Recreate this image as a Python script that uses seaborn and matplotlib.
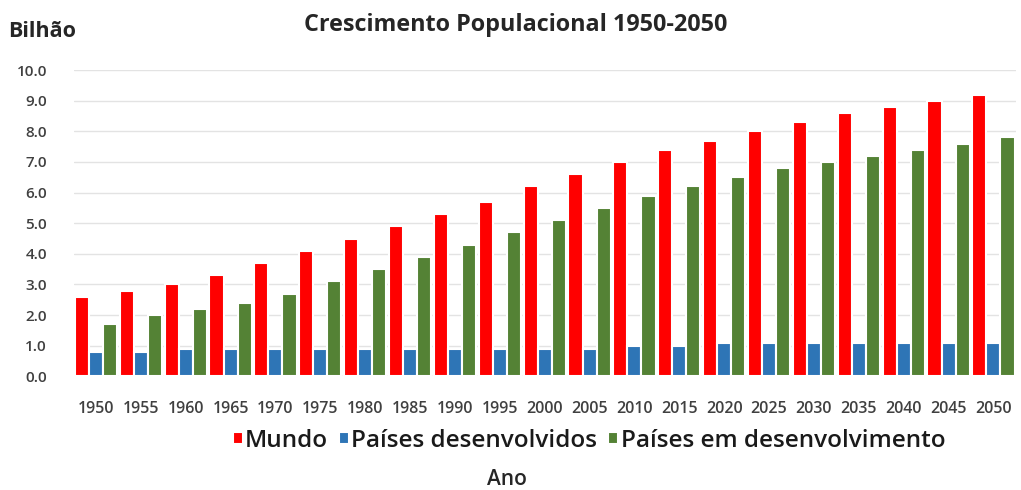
import matplotlib
matplotlib.use("Agg")
import matplotlib.pyplot as plt
import seaborn as sns
import pandas as pd

anos = [str(a) for a in range(1950, 2051, 5)]
mundo = [2.6, 2.8, 3.0, 3.3, 3.7, 4.1, 4.5, 4.9, 5.3, 5.7, 6.2, 6.6, 7.0, 7.4, 7.7, 8.0, 8.3, 8.6, 8.8, 9.0, 9.2]
desenvolvidos = [0.8, 0.8, 0.9, 0.9, 0.9, 0.9, 0.9, 0.9, 0.9, 0.9, 0.9, 0.9, 1.0, 1.0, 1.1, 1.1, 1.1, 1.1, 1.1, 1.1, 1.1]
em_desenvolvimento = [1.7, 2.0, 2.2, 2.4, 2.7, 3.1, 3.5, 3.9, 4.3, 4.7, 5.1, 5.5, 5.9, 6.2, 6.5, 6.8, 7.0, 7.2, 7.4, 7.6, 7.8]
series = ["Mundo", "Países desenvolvidos", "Países em desenvolvimento"]
cores = ["#FF0000", "#2E75B6", "#548235"]

df = pd.DataFrame({
    "Ano": anos * 3,
    "Valor": mundo + desenvolvidos + em_desenvolvimento,
    "Serie": [series[0]] * len(anos) + [series[1]] * len(anos) + [series[2]] * len(anos),
})

sns.set_style("white")
plt.rcParams["font.family"] = ["Open Sans", "DejaVu Sans"]

fig = plt.figure(figsize=(10.21, 4.90), dpi=100)
ax = fig.add_axes([0.072, 0.232, 0.923, 0.625])

sns.barplot(data=df, x="Ano", y="Valor", hue="Serie", palette=cores, ax=ax,
            width=0.94, linewidth=1.5, edgecolor="white", saturation=1, legend=True)

ax.set_ylim(0, 10)
ax.set_yticks([i for i in range(11)])
ax.set_yticklabels([f"{i:.1f}" for i in range(11)])
ax.set_xlim(-0.5, len(anos) - 0.5)
ax.yaxis.grid(True, color="#E3E3E3", linewidth=1.0)
ax.set_axisbelow(True)
for s in ax.spines.values():
    s.set_visible(False)
ax.tick_params(axis="both", length=0, labelsize=11, colors="#404040")
ax.tick_params(axis="x", pad=18, labelsize=11.5)
ax.tick_params(axis="y", pad=19)
for t in ax.get_xticklabels() + ax.get_yticklabels():
    t.set_fontweight("semibold")
ax.set_xlabel("")
ax.set_ylabel("")

fig.text(0.505, 0.948, "Crescimento Populacional 1950-2050", ha="center", va="center",
         fontsize=16.8, fontweight="bold", color="#262626")
fig.text(0.008, 0.935, "Bilhão", ha="left", va="center", fontsize=15.5, fontweight="bold", color="#262626")
fig.text(0.497, 0.022, "Ano", ha="center", va="center", fontsize=15, fontweight="semibold", color="#262626")

h, l = ax.get_legend_handles_labels()
ax.legend_.remove()
leg = fig.legend(h, l, loc="center", bbox_to_anchor=(0.577, 0.1), ncol=3, frameon=False,
                 fontsize=17.5, handlelength=0.4, handleheight=0.4, handletextpad=0.1,
                 columnspacing=0.45)
for t in leg.get_texts():
    t.set_color("#1a1a1a")
    t.set_fontweight("semibold")

fig.savefig("out.png", dpi=100)
